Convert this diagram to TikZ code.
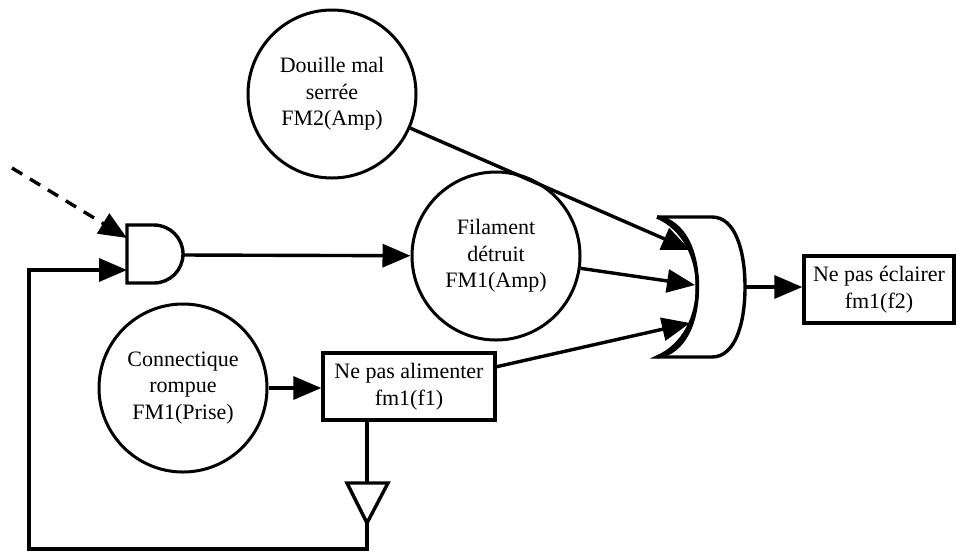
\documentclass[tikz,border=0pt]{standalone}
\usepackage{fontspec}
\setmainfont{Liberation Serif}
\usetikzlibrary{arrows.meta}
\begin{document}
\begin{tikzpicture}[x=0.5pt,y=-0.5pt,line width=1.7pt,
  font=\fontsize{11}{13.25}\selectfont,
  evt/.style={circle,draw,line width=1.5pt,minimum size=84pt,inner sep=0pt,align=center},
  fct/.style={rectangle,draw,minimum height=33.5pt,inner sep=0pt,align=center},
  arr/.style={-{Triangle[length=14pt,width=11.5pt]}}]
  \useasboundingbox (0,0) rectangle (962,553);
  % events
  \node[evt] (douille) at (332,94) {Douille mal\\serrée\\FM2(Amp)};
  \node[evt] (fil) at (496,256) {Filament\\détruit\\FM1(Amp)};
  \node[evt] (conn) at (183,388) {Connectique\\rompue\\FM1(Prise)};
  % functions
  \node[fct,minimum width=86pt] (f1) at (409,386.5) {Ne pas alimenter\\fm1(f1)};
  \node[fct,minimum width=75pt] (f2) at (879,289.5) {Ne pas éclairer\\fm1(f2)};
  % AND gate
  \draw (154,225) -- (127,225) -- (127,283) -- (154,283)
    .. controls (170,283) and (183,270) .. (183,254)
    .. controls (183,238) and (170,225) .. (154,225) -- cycle;
  \coordinate (and in1) at (127,238);
  \coordinate (and in2) at (127,270);
  \coordinate (and out) at (183,255);
  % OR gate
  \draw (657,217) -- (712,217)
    .. controls (735,217) and (745,250) .. (745,287)
    .. controls (745,324) and (735,357) .. (712,357) -- (657,357)
    .. controls (711,334) and (711,240) .. (657,217);
  \draw (657,217) .. controls (684,221) and (698,252) .. (697,287)
    .. controls (698,322) and (684,353) .. (657,357);
  \coordinate (or in1) at (690,250);
  \coordinate (or in2) at (695,285);
  \coordinate (or in3) at (690,323);
  \coordinate (or out) at (745,287);
  % triangle
  \coordinate (tri top) at (367,483);
  \coordinate (tri apex) at (367,523);
  \draw (347,483) -- (388,483) -- (tri apex) -- cycle;
  \coordinate (ext) at (12,168);
  \coordinate (fb corner) at (29,549);
  % links
  \draw[arr,dashed,dash pattern=on 6pt off 4.5pt] (ext) -- (and in1);
  \draw[arr] (and out) -- (fil);
  \draw[arr] (conn.east) -- (conn.east -| f1.west);
  \draw[arr] (douille) -- (or in1);
  \draw[arr] (fil) -- (or in2);
  \draw[arr] (f1) -- (or in3);
  \draw[arr] (or out) -- (or out -| f2.west);
  \draw (f1.south -| tri top) -- (tri top);
  \draw[arr] (tri apex) |- (fb corner) |- (and in2);
\end{tikzpicture}
\end{document}
